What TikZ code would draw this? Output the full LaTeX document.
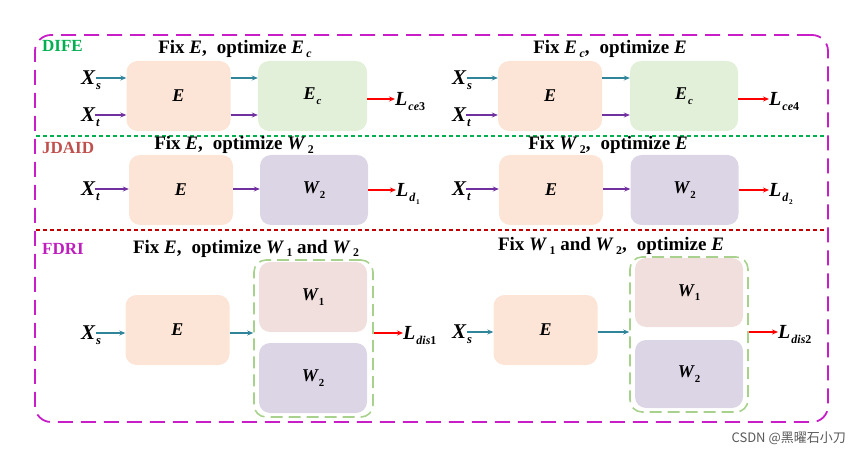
\documentclass[tikz,border=0pt]{standalone}
\usepackage{fontspec}
\setmainfont{Liberation Serif}
\newfontfamily\cjk{Noto Sans CJK SC}
\usetikzlibrary{arrows.meta}
\definecolor{frameM}{RGB}{200,30,200}
\definecolor{difeG}{RGB}{0,176,80}
\definecolor{jdaidR}{RGB}{192,80,77}
\definecolor{fdriM}{RGB}{190,30,190}
\definecolor{dotR}{RGB}{192,0,0}
\definecolor{arrT}{RGB}{49,133,155}
\definecolor{arrP}{RGB}{112,48,160}
\definecolor{arrR}{RGB}{255,0,0}
\definecolor{peach}{RGB}{252,229,214}
\definecolor{ecG}{RGB}{226,240,217}
\definecolor{lavW}{RGB}{220,213,230}
\definecolor{pinkW}{RGB}{241,223,221}
\definecolor{grpG}{RGB}{169,209,142}
\newcommand\dn[1]{\kern1pt\raisebox{-0.55ex}{\scalebox{0.6}{#1}}}
\newcommand\tdn[1]{\kern2.5pt\raisebox{-0.45ex}{\scalebox{0.62}{#1}}}
\newcommand\ve{\textit{E}}
\newcommand\vw[1]{\textit{W}\tdn{#1}}
\newcommand\cma{,\kern10pt }
\begin{document}
\begin{tikzpicture}[x=1pt,y=-1pt,
  blk/.style={rounded corners=11pt, inner sep=0pt, minimum width=104pt, minimum height=70pt,
              font=\fontsize{18}{20}\selectfont\bfseries\itshape},
  grp/.style={draw=grpG, line width=1.6pt, dash pattern=on 12pt off 6pt, rounded corners=12pt,
              inner sep=0pt, minimum width=119pt},
  ttl/.style={font=\fontsize{19}{20}\selectfont\bfseries, inner sep=0pt, anchor=base},
  xl/.style={font=\fontsize{21}{22}\selectfont\bfseries\itshape, inner sep=0pt, anchor=west,
             text height=13pt, text depth=0pt},
  ll/.style={font=\fontsize{20}{22}\selectfont\bfseries\itshape, inner sep=0pt, anchor=west,
             text height=13pt, text depth=0pt},
  tag/.style={font=\fontsize{17}{20}\selectfont\bfseries, inner sep=0pt, anchor=west},
  arr/.style={line width=1.5pt, -{Stealth[length=6pt,width=5pt]}},
  tarr/.style={arr, draw=arrT, fill=arrT},
  parr/.style={arr, draw=arrP, fill=arrP},
  rarr/.style={arr, draw=arrR, fill=arrR}]
\useasboundingbox (0,0) rectangle (859,457);
% outer frame
\node[draw=frameM, line width=1.8pt, dash pattern=on 15pt off 8pt, rounded corners=16pt,
      minimum width=793pt, minimum height=387pt, inner sep=0pt] (frame) at (431.5,228.5) {};
\coordinate (gL) at (36,136); \coordinate (gR) at (827,136);
\coordinate (rL) at (36,230); \coordinate (rR) at (827,230);
\draw[difeG, line width=2.6pt, dash pattern=on 4pt off 3pt] (gL) -- (gR);
\draw[dotR, line width=2.6pt, dash pattern=on 4pt off 3pt] (rL) -- (rR);
% section tags
\node[tag, text=difeG] (dife) at (42,46) {DIFE};
\node[tag, text=jdaidR] (jdaid) at (42,148) {JDAID};
\node[tag, text=fdriM] (fdri) at (42,249) {FDRI};
% ---------- row 1 left
\node[blk, fill=peach] (e1) at (178.5,96) {E};
\node[blk, fill=ecG, minimum width=109pt] (c1) at (312.5,96) {E\dn{c}};
\node[xl] (xs1) at (81,78) {X\dn{s}};
\node[xl] (xt1) at (81,115) {X\dn{t}};
\node[ll] (l1) at (395,99) {L\dn{ce\textup{3}}};
\draw[tarr] ([xshift=-5pt]xs1.east) -- (e1.west |- xs1.east);
\draw[parr] ([xshift=-5pt]xt1.east) -- (e1.west |- xt1.east);
\draw[tarr] (e1.east |- xs1.east) -- (c1.west |- xs1.east);
\draw[parr] (e1.east |- xt1.east) -- (c1.west |- xt1.east);
\draw[rarr] (c1.east |- l1.west) -- (l1.west);
% ---------- row 1 right
\node[blk, fill=peach] (e2) at (550,96) {E};
\node[blk, fill=ecG, minimum width=108pt] (c2) at (684,96) {E\dn{c}};
\node[xl] (xs2) at (452,78) {X\dn{s}};
\node[xl] (xt2) at (452,115) {X\dn{t}};
\node[ll] (l2) at (769,99) {L\dn{ce\textup{4}}};
\draw[tarr] ([xshift=-5pt]xs2.east) -- (e2.west |- xs2.east);
\draw[parr] ([xshift=-5pt]xt2.east) -- (e2.west |- xt2.east);
\draw[tarr] (e2.east |- xs2.east) -- (c2.west |- xs2.east);
\draw[parr] (e2.east |- xt2.east) -- (c2.west |- xt2.east);
\draw[rarr] (c2.east |- l2.west) -- (l2.west);
% ---------- row 2 left
\node[blk, fill=peach] (e3) at (181,190) {E};
\node[blk, fill=lavW, minimum width=108pt] (w3) at (314,190) {W\dn{\textup{2}}};
\node[xl] (xt3) at (81,189) {X\dn{t}};
\node[ll] (l3) at (396,190) {L\dn{d\dn{\textup{1}}}};
\draw[parr] ([xshift=-5pt]xt3.east) -- (e3.west |- xt3.east);
\draw[parr] (e3.east |- xt3.east) -- (w3.west |- xt3.east);
\draw[rarr] (w3.east |- l3.west) -- (l3.west);
% ---------- row 2 right
\node[blk, fill=peach] (e4) at (551,190) {E};
\node[blk, fill=lavW, minimum width=108pt] (w4) at (684.5,190) {W\dn{\textup{2}}};
\node[xl] (xt4) at (452,189) {X\dn{t}};
\node[ll] (l4) at (769,190) {L\dn{d\dn{\textup{2}}}};
\draw[parr] ([xshift=-5pt]xt4.east) -- (e4.west |- xt4.east);
\draw[parr] (e4.east |- xt4.east) -- (w4.west |- xt4.east);
\draw[rarr] (w4.east |- l4.west) -- (l4.west);
% ---------- row 3 left
\node[blk, fill=peach] (e5) at (177.5,330) {E};
\node[grp, minimum height=157pt] (g5) at (313.5,338.5) {};
\node[blk, fill=pinkW, minimum width=108pt] (w15) at (313,297) {W\dn{\textup{1}}};
\node[blk, fill=lavW, minimum width=108pt] (w25) at (313,378) {W\dn{\textup{2}}};
\node[xl] (xs5) at (81,333) {X\dn{s}};
\node[ll] (l5) at (403,333) {L\dn{dis\textup{1}}};
\draw[tarr] ([xshift=-5pt]xs5.east) -- (e5.west |- xs5.east);
\draw[tarr] (e5.east |- xs5.east) -- (g5.west |- xs5.east);
\draw[rarr] (g5.east |- l5.west) -- (l5.west);
% ---------- row 3 right
\node[blk, fill=peach] (e6) at (545.5,330) {E};
\node[grp, minimum height=155pt, minimum width=118pt] (g6) at (689,334.5) {};
\node[blk, fill=pinkW, minimum width=108pt, minimum height=69pt] (w16) at (689,292.5) {W\dn{\textup{1}}};
\node[blk, fill=lavW, minimum width=108pt, minimum height=68pt] (w26) at (689,374) {W\dn{\textup{2}}};
\node[xl] (xs6) at (452,332) {X\dn{s}};
\node[ll] (l6) at (778,332) {L\dn{dis\textup{2}}};
\draw[tarr] ([xshift=-5pt]xs6.east) -- (e6.west |- xs6.east);
\draw[tarr] (e6.east |- xs6.east) -- (g6.west |- xs6.east);
\draw[rarr] (g6.east |- l6.west) -- (l6.west);
% titles (baseline positions), drawn last
\node[ttl] (t1) at (235,54) {Fix \ve\cma optimize \ve\tdn{\textit{c}}};
\node[ttl] (t2) at (610,54) {Fix \ve\tdn{\textit{c}}\cma optimize \ve};
\node[ttl] (t3) at (234,150) {Fix \ve\cma optimize \vw{2}};
\node[ttl] (t4) at (608,150) {Fix \vw{2}\cma optimize \ve};
\node[ttl] (t5) at (246,253) {Fix \ve\cma optimize \vw{1} and \vw{2}};
\node[ttl] (t6) at (611,251) {Fix \vw{1} and \vw{2}\cma optimize \ve};
% watermark
\node[font=\cjk\fontsize{13}{15}\selectfont, text=black!65, anchor=east, inner sep=0pt] (wm) at (846,438) {CSDN @黑曜石小刀};
\end{tikzpicture}
\end{document}
